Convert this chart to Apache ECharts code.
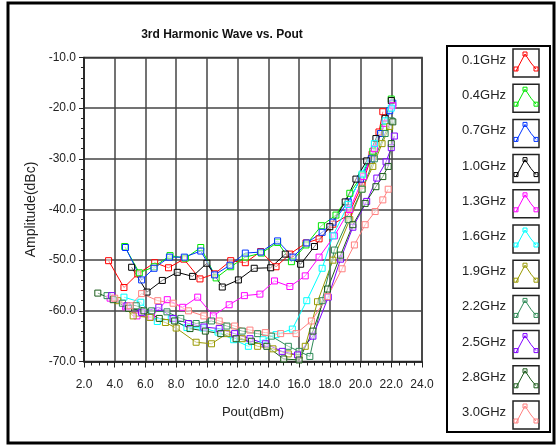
<!DOCTYPE html>
<html>
<head>
<meta charset="utf-8">
<script src="https://cdn.jsdelivr.net/npm/echarts@6/dist/echarts.min.js"></script>
<style>
  html, body { margin: 0; padding: 0; background: #fff; }
  #board { width: 560px; height: 447px; }
</style>
</head>
<body>
<div id="board"></div>
<script>
// 频率名称 / 颜色
const names = ['0.1GHz', '0.4GHz', '0.7GHz', '1.0GHz', '1.3GHz', '1.6GHz',
  '1.9GHz', '2.2GHz', '2.5GHz', '2.8GHz', '3.0GHz'];
const colors = ['#ff0000', '#00e600', '#0033ff', '#000000', '#ff00ff', '#00ffff',
  '#999900', '#2e8b57', '#8000ff', '#1a5c1a', '#ff8080'];

// 每条曲线 [Pout, dBc]
const f01 = [[3.6,-50.1],[4.6,-55.4],[5.5,-52.7],[6.6,-50.5],[7.5,-51.5],[8.5,-49.8],[9.55,-53.7],[10.5,-52.7],[11.55,-50.1],[12.5,-50.5],[13.5,-48.3],[14.5,-51.3],[15.4,-48.8],[16.45,-46.6],[17.3,-45.8],[18.2,-42.9],[19.2,-41.1],[20.1,-35.2],[20.75,-29.1],[21.2,-24.7],[21.45,-20.7]];
const f04 = [[4.65,-47.3],[5.6,-52.5],[6.56,-51.3],[7.6,-49.1],[8.6,-49.6],[9.6,-47.5],[10.6,-53.5],[11.55,-51.3],[12.5,-49.4],[13.55,-48.6],[14.6,-46.5],[15.5,-50.3],[16.45,-47],[17.45,-43.2],[18.4,-41.1],[19.3,-36.8],[20.1,-33.2],[20.8,-28.5],[21.5,-23.8],[22.0,-18.2]];
const f07 = [[4.7,-47.5],[5.75,-53.9],[6.56,-51.6],[7.56,-49.4],[8.53,-49.4],[9.6,-48.2],[10.5,-52.9],[11.5,-51],[12.5,-48.6],[13.5,-48.4],[14.6,-46.2],[15.6,-49.4],[16.5,-46.6],[17.5,-44.5],[18.2,-42.5],[19.2,-38.5],[20.0,-34],[20.7,-30],[21.3,-25],[21.9,-20.5],[22.1,-19]];
const f10 = [[5.1,-51.4],[6.1,-56.3],[7.1,-54],[8.07,-52.4],[9.07,-53.2],[10.0,-50.6],[11.0,-55.3],[12.05,-53.9],[13.08,-51.6],[14.15,-51.5],[15.1,-48.8],[16.1,-50.8],[17.0,-47.3],[18.0,-43.4],[19.0,-38.5],[19.7,-34],[20.4,-30.4],[21.0,-26],[21.6,-22],[22.0,-18.5]];
const f13 = [[3.7,-57.5],[4.7,-59.2],[5.45,-61],[6.4,-61.2],[7.42,-57.8],[8.42,-59.3],[9.4,-57.3],[10.42,-61],[11.45,-58.8],[12.44,-57],[13.45,-56.7],[14.4,-54.1],[15.4,-55.2],[16.4,-53.1],[17.3,-49.4],[18.3,-45.2],[19.3,-40],[20.2,-33.5],[20.9,-28],[21.6,-23],[22.1,-19.5]];
const f16 = [[4.6,-57.3],[5.7,-58.3],[6.77,-62.1],[7.68,-61.6],[8.7,-63.3],[9.74,-63.4],[10.72,-64.2],[11.74,-65.7],[12.7,-67],[13.66,-65.7],[14.5,-64.7],[15.56,-63.6],[16.5,-58],[17.5,-51.6],[18.2,-45.2],[19.2,-39],[20.1,-33],[20.9,-27],[21.6,-22.5],[22.0,-20]];
const f19 = [[4.2,-58],[5.2,-61],[6.3,-61.3],[7.3,-62.3],[8.0,-63.4],[9.3,-66.2],[10.3,-66.5],[11.3,-64.5],[12.3,-65.5],[13.3,-67],[14.3,-67.5],[15.3,-68.5],[16.0,-68.8],[16.4,-67],[17.2,-58.2],[18.2,-50],[19.3,-42],[20.1,-36],[20.8,-31.5],[21.4,-27],[21.9,-23.6]];
const f22 = [[3.5,-57],[4.5,-58.5],[5.4,-59],[6.4,-60],[7.4,-60.2],[8.3,-61.5],[9.3,-62.5],[10.3,-62],[11.3,-63],[12.3,-64],[13.3,-64.5],[14.2,-65],[15.3,-67],[16.0,-68],[16.7,-69],[17.5,-58],[18.3,-48],[19.2,-42],[20.1,-36],[20.9,-30],[21.6,-25],[22.0,-22.5]];
const f25 = [[3.8,-57],[4.8,-59],[5.75,-60.3],[6.87,-59.3],[7.8,-61.5],[8.8,-62.5],[9.8,-63.2],[10.8,-63.5],[11.8,-64.5],[12.8,-65.5],[13.8,-66.5],[14.9,-68],[15.9,-68.7],[16.9,-65],[17.9,-57.3],[18.7,-49.8],[19.5,-43.5],[20.4,-38.4],[21.06,-33.8],[21.66,-30.6],[22.0,-27.8],[22.2,-25.5]];
const f28 = [[2.9,-56.5],[3.9,-57.8],[4.9,-59.5],[5.9,-60],[6.9,-61.5],[7.9,-62],[8.9,-63.5],[9.9,-64],[10.9,-64.5],[11.9,-65.5],[12.9,-66],[13.9,-67],[15.0,-69.5],[16.0,-69.7],[16.9,-64],[17.85,-55.7],[18.7,-49],[19.5,-43],[20.3,-38.8],[21.0,-35.5],[21.45,-33.5],[21.8,-31.5],[22.0,-27],[22.1,-22.7]];
const f30 = [[4.0,-57.5],[5.0,-59],[5.75,-56.6],[6.8,-58],[7.8,-58.5],[8.8,-60],[9.8,-61],[10.8,-62],[11.8,-63],[12.8,-63.8],[13.8,-64.3],[14.8,-64.5],[15.8,-64.5],[16.8,-62],[17.85,-57.2],[18.8,-51.7],[19.6,-47],[20.3,-43],[20.95,-40.4],[21.45,-38.1],[21.8,-36]];
const curves = [f01, f04, f07, f10, f13, f16, f19, f22, f25, f28, f30];

const font = 'Liberation Sans, Arial, sans-serif';

// 图例 (右侧方框)
const legendItems = [];
names.forEach((n, i) => {
  const cy = 63 + i * 35.2;
  const c = colors[i];
  legendItems.push({
    type: 'text', left: 462, top: cy - 9,
    style: { text: n, font: '13px ' + font, fill: '#222' }
  });
  legendItems.push({
    type: 'rect', shape: { x: 513, y: cy - 14, width: 26, height: 28 },
    style: { fill: '#fff', stroke: '#222', lineWidth: 1.5 }
  });
  legendItems.push({
    type: 'polyline', shape: { points: [[516, cy + 8], [525, cy - 9], [531, cy], [536, cy + 6]] },
    style: { stroke: c, lineWidth: 1, fill: 'none' }
  });
  [[516, cy + 6], [525, cy - 9], [536, cy + 6]].forEach(p => {
    legendItems.push({
      type: 'rect', shape: { x: p[0] - 2, y: p[1] - 2, width: 4, height: 4 },
      style: { fill: 'none', stroke: c, lineWidth: 1 }
    });
  });
});

const option = {
  backgroundColor: '#fff',
  animation: false,
  title: {
    text: '3rd Harmonic Wave vs. Pout',
    left: 217, top: 24, textAlign: 'center',
    textStyle: { fontFamily: font, fontSize: 12, fontWeight: 'bold', color: '#111' }
  },
  grid: { left: 84, right: 138, top: 57.5, bottom: 85.5, show: true, borderColor: '#222', borderWidth: 1.5 },
  xAxis: {
    type: 'value', min: 2, max: 24, interval: 2,
    name: 'Pout(dBm)', nameLocation: 'middle', nameGap: 44,
    nameTextStyle: { fontFamily: font, fontSize: 13, color: '#222' },
    axisLine: { lineStyle: { color: '#222', width: 1.5 } },
    axisTick: { show: true, length: 6, lineStyle: { color: '#222' } },
    minorTick: { show: true, splitNumber: 4, length: 4, lineStyle: { color: '#222' } },
    axisLabel: { margin: 17, fontFamily: font, fontSize: 12, color: '#222', formatter: v => v.toFixed(1) },
    splitLine: { show: true, lineStyle: { color: '#444', width: 1.5 } }
  },
  yAxis: {
    type: 'value', min: -70, max: -10, interval: 10,
    name: 'Amplitude(dBc)', nameLocation: 'middle', nameGap: 42,
    nameTextStyle: { fontFamily: font, fontSize: 14, color: '#222' },
    axisLine: { lineStyle: { color: '#222', width: 1.5 } },
    axisTick: { show: true, length: 5, lineStyle: { color: '#222' } },
    minorTick: { show: true, splitNumber: 5, length: 3, lineStyle: { color: '#222' } },
    axisLabel: { margin: 8, fontFamily: font, fontSize: 12, color: '#222', formatter: v => v.toFixed(1) },
    splitLine: { show: true, lineStyle: { color: '#444', width: 1.5 } }
  },
  series: curves.map((d, i) => ({
    name: names[i],
    type: 'line',
    data: d,
    symbol: 'rect',
    symbolSize: 6,
    lineStyle: { color: colors[i], width: 1 },
    itemStyle: { color: 'rgba(255,255,255,0.5)', borderColor: colors[i], borderWidth: 1 }
  })),
  graphic: [
    { type: 'rect', shape: { x: 8, y: 3, width: 546, height: 440 }, style: { fill: 'none', stroke: '#000', lineWidth: 3 } },
    { type: 'rect', shape: { x: 447, y: 46, width: 103, height: 386 }, style: { fill: '#fff', stroke: '#000', lineWidth: 2 } }
  ].concat(legendItems)
};

const myChart = echarts.init(document.getElementById('board'));
myChart.setOption(option);
</script>
</body>
</html>
